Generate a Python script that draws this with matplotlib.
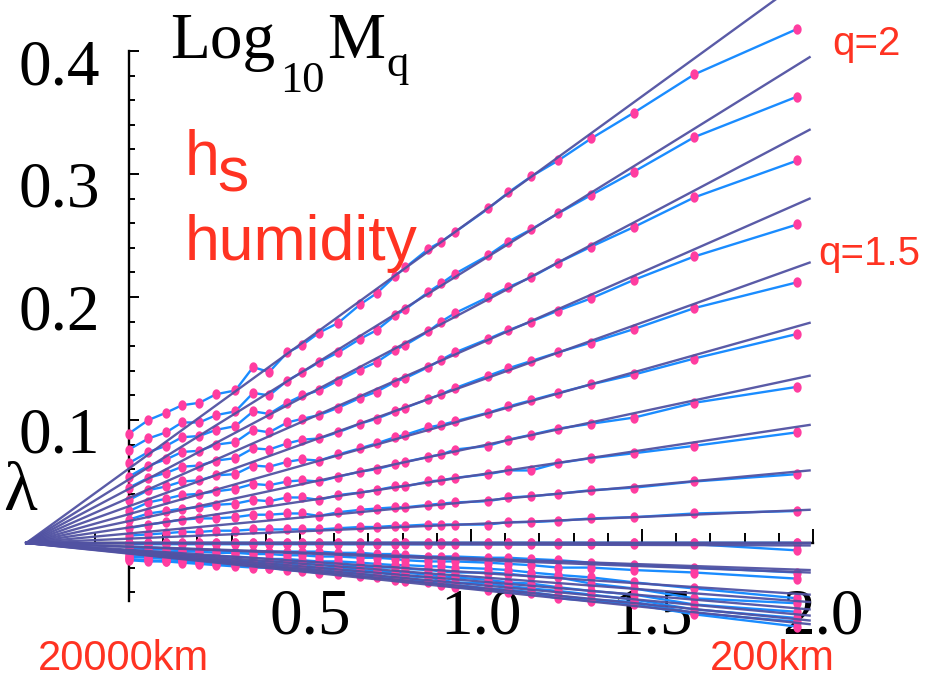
import numpy as np
import matplotlib.pyplot as plt
from matplotlib.ticker import FixedLocator

# ── Data ──────────────────────────────────────────────────────
# log10(lambda), lambda = 20000 km / scale
LOG_LAMBDA = [0.000, 0.057, 0.109, 0.155, 0.206, 0.255, 0.311, 0.363, 0.410,
              0.463, 0.507, 0.556, 0.612, 0.676, 0.724, 0.778, 0.808, 0.875,
              0.913, 0.954, 1.051, 1.109, 1.176, 1.255, 1.352, 1.477, 1.653,
              1.954]

# log10 M_q, q > 1 (top to bottom)
LOGM_Q20 = [0.089, 0.100, 0.106, 0.112, 0.114, 0.121, 0.124, 0.143, 0.139, 0.155,
            0.161, 0.171, 0.179, 0.194, 0.203, 0.217, 0.224, 0.239, 0.245, 0.253,
            0.272, 0.285, 0.298, 0.311, 0.329, 0.350, 0.381, 0.418]
LOGM_Q19 = [0.076, 0.085, 0.090, 0.098, 0.098, 0.104, 0.107, 0.122, 0.120, 0.132,
            0.139, 0.147, 0.155, 0.166, 0.173, 0.185, 0.190, 0.204, 0.211, 0.219,
            0.234, 0.245, 0.255, 0.268, 0.283, 0.302, 0.330, 0.363]
LOGM_Q18 = [0.065, 0.074, 0.079, 0.086, 0.087, 0.092, 0.095, 0.107, 0.105, 0.114,
            0.120, 0.124, 0.132, 0.141, 0.147, 0.157, 0.161, 0.172, 0.180, 0.187,
            0.200, 0.208, 0.216, 0.228, 0.241, 0.257, 0.281, 0.311]
LOGM_Q17 = [0.054, 0.063, 0.068, 0.074, 0.075, 0.080, 0.082, 0.092, 0.090, 0.098,
            0.101, 0.104, 0.110, 0.118, 0.123, 0.131, 0.134, 0.143, 0.149, 0.155,
            0.166, 0.173, 0.180, 0.189, 0.199, 0.214, 0.233, 0.259]
LOGM_Q16 = [0.045, 0.053, 0.057, 0.062, 0.063, 0.067, 0.069, 0.077, 0.076, 0.081,
            0.084, 0.085, 0.090, 0.097, 0.101, 0.107, 0.110, 0.117, 0.121, 0.126,
            0.136, 0.142, 0.148, 0.155, 0.163, 0.174, 0.191, 0.212]
LOGM_Q15 = [0.035, 0.043, 0.046, 0.050, 0.051, 0.055, 0.056, 0.063, 0.062, 0.066,
            0.068, 0.067, 0.072, 0.077, 0.081, 0.086, 0.088, 0.094, 0.096, 0.099,
            0.106, 0.111, 0.116, 0.122, 0.129, 0.137, 0.150, 0.170]
LOGM_Q14 = [0.026, 0.033, 0.036, 0.039, 0.040, 0.042, 0.044, 0.048, 0.047, 0.050,
            0.051, 0.050, 0.054, 0.058, 0.060, 0.064, 0.066, 0.070, 0.072, 0.076,
            0.079, 0.084, 0.088, 0.093, 0.097, 0.102, 0.114, 0.127]
LOGM_Q13 = [0.019, 0.024, 0.026, 0.028, 0.029, 0.031, 0.032, 0.035, 0.034, 0.037,
            0.037, 0.035, 0.039, 0.041, 0.043, 0.046, 0.046, 0.050, 0.051, 0.053,
            0.056, 0.059, 0.059, 0.065, 0.069, 0.073, 0.079, 0.090]
LOGM_Q12 = [0.012, 0.015, 0.017, 0.019, 0.020, 0.020, 0.021, 0.023, 0.023, 0.024,
            0.024, 0.022, 0.025, 0.027, 0.028, 0.029, 0.029, 0.031, 0.032, 0.033,
            0.034, 0.037, 0.038, 0.040, 0.043, 0.045, 0.050, 0.056]
LOGM_Q11 = [0.006, 0.007, 0.008, 0.009, 0.009, 0.010, 0.010, 0.011, 0.011, 0.011,
            0.011, 0.011, 0.012, 0.013, 0.013, 0.014, 0.014, 0.015, 0.015, 0.015,
            0.015, 0.017, 0.017, 0.018, 0.020, 0.021, 0.024, 0.026]
LOGM_Q10 = [0.0] * 28
LOGM_Q00 = [0.0] * 28

# log10 M_q, q < 1
LOGM_Q09 = [-0.001] * 27 + [-0.006]
LOGM_Q01 = [-0.004, -0.005, -0.005, -0.006, -0.006, -0.006, -0.007, -0.007, -0.007, -0.007,
            -0.007, -0.007, -0.008, -0.008, -0.009, -0.009, -0.010, -0.011, -0.011, -0.011,
            -0.012, -0.012, -0.013, -0.014, -0.016, -0.018, -0.020, -0.024]
LOGM_Q08 = [-0.006, -0.007, -0.007, -0.007, -0.007, -0.008, -0.008, -0.009, -0.009, -0.010,
            -0.010, -0.011, -0.011, -0.012, -0.012, -0.013, -0.014, -0.015, -0.015, -0.015,
            -0.016, -0.017, -0.018, -0.020, -0.020, -0.022, -0.024, -0.029]
LOGM_Q02 = [-0.007, -0.008, -0.009, -0.010, -0.010, -0.011, -0.011, -0.012, -0.013, -0.013,
            -0.014, -0.015, -0.015, -0.016, -0.017, -0.018, -0.018, -0.019, -0.019, -0.020,
            -0.021, -0.022, -0.024, -0.026, -0.028, -0.032, -0.037, -0.045]
LOGM_Q07 = [-0.009, -0.010, -0.011, -0.011, -0.012, -0.013, -0.014, -0.015, -0.015, -0.015,
            -0.016, -0.017, -0.018, -0.019, -0.020, -0.020, -0.021, -0.022, -0.023, -0.024,
            -0.024, -0.025, -0.027, -0.028, -0.033, -0.037, -0.045, -0.049]
LOGM_Q03 = [-0.011, -0.011, -0.012, -0.013, -0.014, -0.015, -0.015, -0.016, -0.017, -0.017,
            -0.018, -0.020, -0.020, -0.022, -0.023, -0.024, -0.024, -0.026, -0.027, -0.028,
            -0.030, -0.032, -0.033, -0.036, -0.039, -0.042, -0.050, -0.056]
LOGM_Q06 = [-0.011, -0.012, -0.013, -0.014, -0.015, -0.015, -0.016, -0.017, -0.018, -0.019,
            -0.020, -0.021, -0.022, -0.024, -0.024, -0.026, -0.027, -0.028, -0.030, -0.032,
            -0.033, -0.035, -0.037, -0.039, -0.042, -0.046, -0.054, -0.061]
LOGM_Q04 = [-0.013, -0.014, -0.015, -0.015, -0.016, -0.017, -0.018, -0.019, -0.020, -0.020,
            -0.021, -0.023, -0.024, -0.025, -0.027, -0.028, -0.029, -0.031, -0.033, -0.034,
            -0.037, -0.038, -0.040, -0.043, -0.046, -0.048, -0.057, -0.064]
LOGM_Q05 = [-0.014, -0.015, -0.015, -0.016, -0.017, -0.018, -0.019, -0.020, -0.020, -0.022,
            -0.023, -0.024, -0.025, -0.027, -0.028, -0.030, -0.031, -0.032, -0.034, -0.036,
            -0.038, -0.040, -0.041, -0.045, -0.047, -0.050, -0.058, -0.068]

DATA_SERIES = [LOGM_Q20, LOGM_Q19, LOGM_Q18, LOGM_Q17, LOGM_Q16, LOGM_Q15,
               LOGM_Q14, LOGM_Q13, LOGM_Q12, LOGM_Q11, LOGM_Q10, LOGM_Q00,
               LOGM_Q09, LOGM_Q01, LOGM_Q08, LOGM_Q02, LOGM_Q07, LOGM_Q03,
               LOGM_Q06, LOGM_Q04, LOGM_Q05]

# cascade model: straight from the outer scale to the smallest scale
MODEL_X = [-0.3, 1.99]
MODEL_END = [0.462, 0.395, 0.336, 0.280, 0.228, 0.179, 0.136, 0.096, 0.059, 0.027,
             0.0, 0.0,
             -0.002, -0.022, -0.024, -0.042, -0.048, -0.054, -0.059, -0.063, -0.066]

X_TICKS = [0.5, 1.0, 1.5, 2.0]
X_TICK_LABELS = ["0.5", "1.0", "1.5", "2.0"]
Y_TICKS = [0.1, 0.2, 0.3, 0.4]
Y_TICK_LABELS = ["0.1", "0.2", "0.3", "0.4"]

DARK = "#5152A2"
LIGHT = "#1A8CFF"
PINK = "#FF3DA0"
RED = "#FF3322"
SERIF = "Liberation Serif"
SANS = "Liberation Sans"

# ── Figure ────────────────────────────────────────────────────
W, H = 930, 680
fig = plt.figure(figsize=(W / 100, H / 100), dpi=100)
ax = fig.add_axes([0, 0, 1, 1])
ax.set_xlim(-0.377, 2.342)
ax.set_ylim(-0.1114, 0.4415)
ax.patch.set_alpha(0)

for s in ["top", "right"]:
    ax.spines[s].set_visible(False)
ax.spines["left"].set_position(("data", 0))
ax.spines["bottom"].set_position(("data", 0))
ax.spines["left"].set_bounds(-0.047, 0.4)
ax.spines["bottom"].set_bounds(-0.1, 2.0)
for s in ["left", "bottom"]:
    ax.spines[s].set_linewidth(1.7)
    ax.spines[s].set_zorder(2)

ax.xaxis.set_major_locator(FixedLocator(X_TICKS))
ax.xaxis.set_minor_locator(FixedLocator(np.round(np.arange(-0.1, 2.01, 0.1), 2)))
ax.yaxis.set_major_locator(FixedLocator(Y_TICKS))
ax.yaxis.set_minor_locator(FixedLocator(np.round(np.arange(-0.04, 0.401, 0.02), 2)))
ax.tick_params(which="both", direction="in", labelbottom=False, labelleft=False,
               width=1.4, color="black")
ax.tick_params(axis="x", which="major", length=10)
ax.tick_params(axis="x", which="minor", length=7)
ax.tick_params(axis="y", which="major", length=7)
ax.tick_params(axis="y", which="minor", length=4)

# data: light blue lines with pink dots (slightly tall, as in the original)
dot = [(np.cos(t) * 0.8, np.sin(t)) for t in np.linspace(0, 2 * np.pi, 25)]
for ys in DATA_SERIES:
    ax.plot(LOG_LAMBDA, ys, color=LIGHT, lw=1.7, zorder=3, solid_joinstyle="round")
for ys in DATA_SERIES:
    ax.plot(LOG_LAMBDA, ys, ls="none", marker=dot, ms=7.5, mfc=PINK, mec="none",
            zorder=4)
# model lines
for end in MODEL_END:
    ax.plot(MODEL_X, [0.0, end], color=DARK, lw=1.7, zorder=5, alpha=0.95)

# tick labels (offset like the original)
for v, lab in zip(X_TICKS, X_TICK_LABELS):
    ax.text(v + 0.029, -0.0732, lab, family=SERIF, fontsize=47, ha="center",
            va="baseline", zorder=1)
for v, lab in zip(Y_TICKS, Y_TICK_LABELS):
    ax.text(-0.085, v - 0.0268, lab, family=SERIF, fontsize=47, ha="right",
            va="baseline", zorder=1)


def ptext(px, py, s, **kw):
    fig.text(px / W, 1 - py / H, s, va="baseline", ha=kw.pop("ha", "left"), **kw)


# axis titles
ptext(170, 58, "Log", family=SERIF, fontsize=47)
ptext(280, 92, "10", family=SERIF, fontsize=32)
ptext(327, 58, "M", family=SERIF, fontsize=47)
ptext(386, 76, "q", family=SERIF, fontsize=32)
ptext(37, 510, "λ", family=SERIF, fontsize=50, ha="right")

# red annotations
ptext(185, 175, "h", family=SANS, fontsize=45, color=RED)
ptext(217, 192, "s", family=SANS, fontsize=45, color=RED)
ptext(185, 260, "humidity", family=SANS, fontsize=45, color=RED)
ptext(832, 55, "q=2", family=SANS, fontsize=29, color=RED)
ptext(818, 265, "q=1.5", family=SANS, fontsize=29, color=RED)
ptext(38, 670, "20000km", family=SANS, fontsize=30, color=RED)
ptext(710, 670, "200km", family=SANS, fontsize=30, color=RED)

fig.savefig("out.png", dpi=100)
